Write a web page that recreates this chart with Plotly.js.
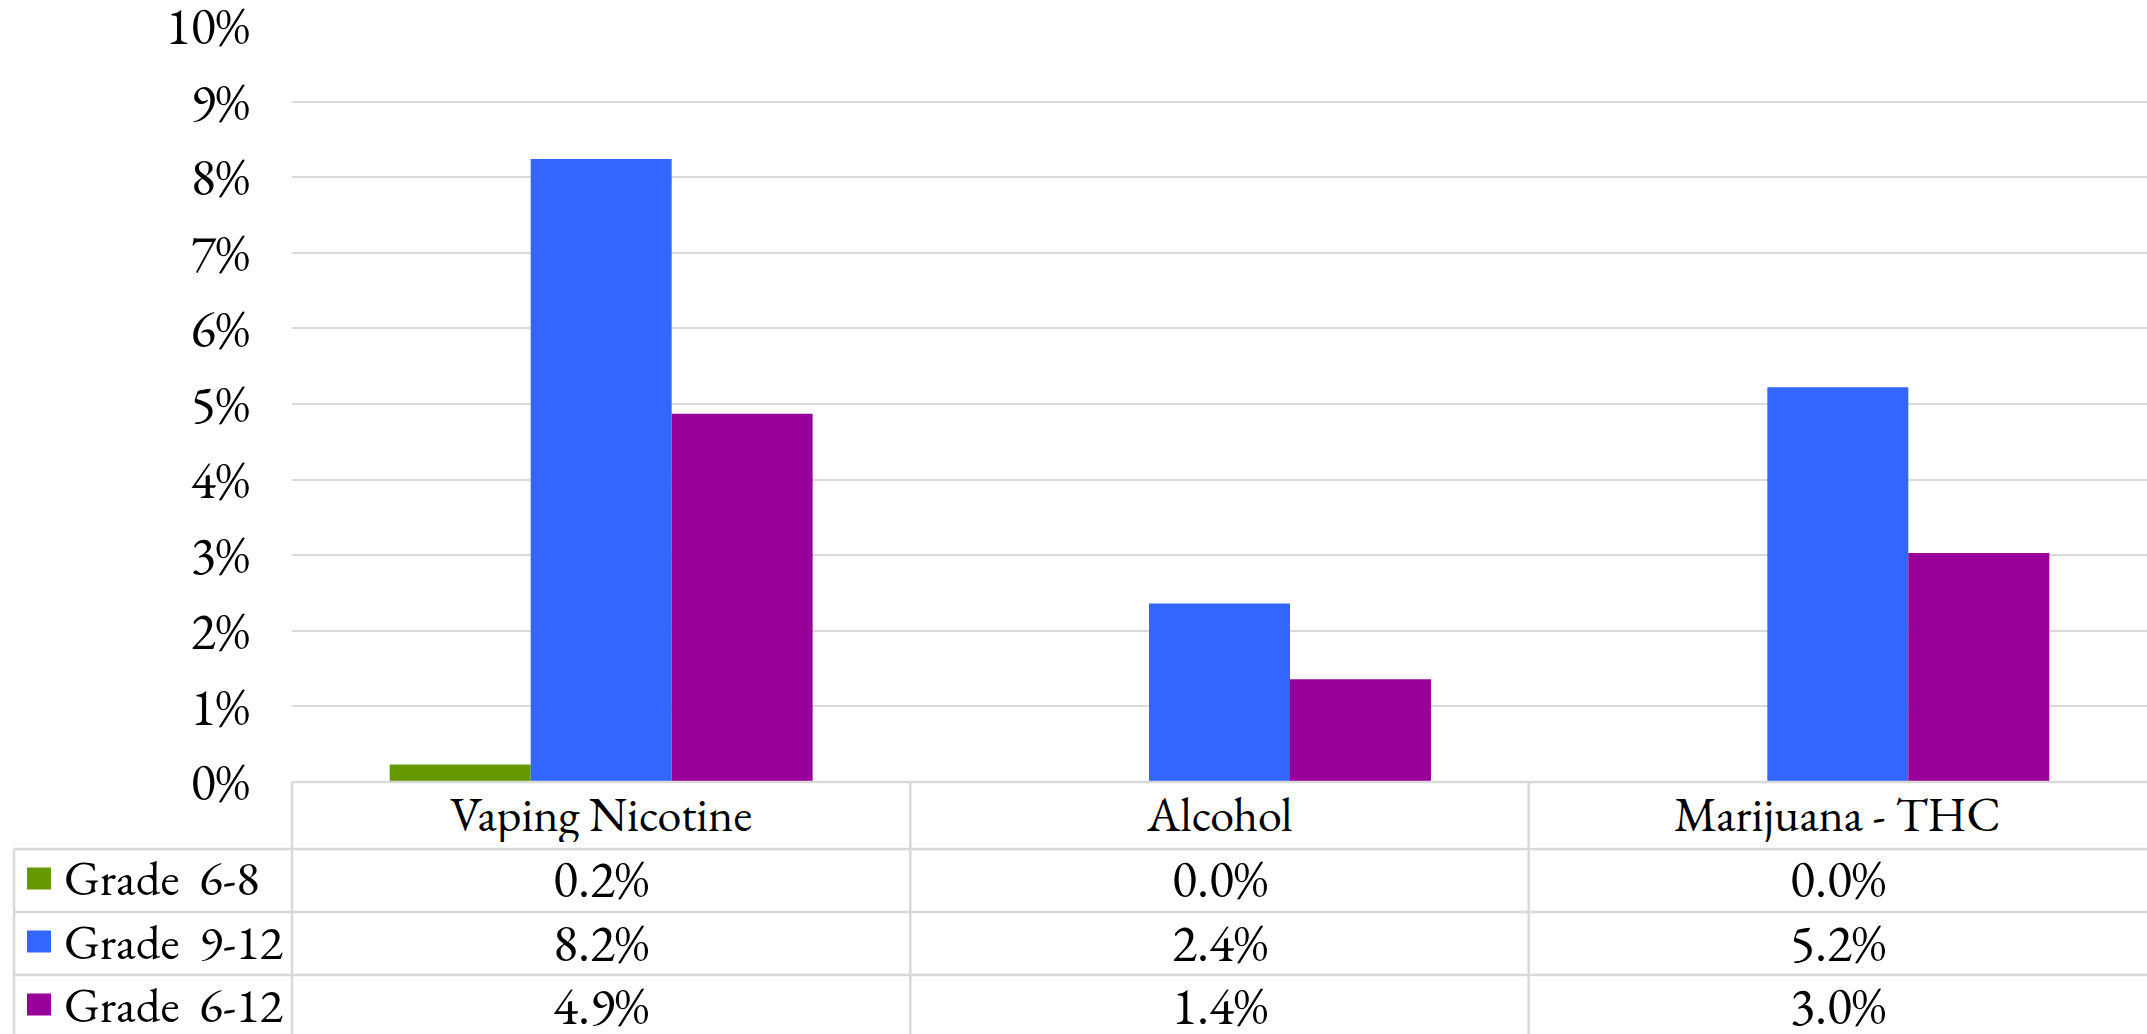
<!DOCTYPE html>
<html>
<head>
<meta charset="utf-8">
<script src="https://cdn.plot.ly/plotly-3.0.1.min.js"></script>
<style>html,body{margin:0;padding:0;background:#fff;}#chart{width:2147px;height:1034px;}</style>
</head>
<body>
<div id="chart"></div>
<script>
// ---- data ----
const categories = ['Vaping Nicotine', 'Alcohol', 'Marijuana - THC'];
const seriesNames = ['Grade  6-8', 'Grade  9-12', 'Grade  6-12'];
const grade6to8 = [0.23, 0.0, 0.0];
const grade9to12 = [8.24, 2.36, 5.22];
const grade6to12 = [4.87, 1.36, 3.03];
const yTickVals = [0, 1, 2, 3, 4, 5, 6, 7, 8, 9, 10];
const yTickText = ['0%', '1%', '2%', '3%', '4%', '5%', '6%', '7%', '8%', '9%', '10%'];

// ---- styling ----
const colors = ['#669900', '#3366FF', '#990099'];
const FONT = 'Garamond, "EB Garamond", "Liberation Serif", "DejaVu Serif", serif';
const FS_CAT = 48, FS_TICK = 52, FS_VAL = 52, FS_LEG = 49;
const GRID = '#D9D9D9';

const W = 2147, H = 1034;
const L = 292, R = 2147, T = 26, B = 782;
const px = p => (p - L) / (R - L);
const py = p => (B - p) / (B - T);

const seriesData = [grade6to8, grade9to12, grade6to12];
const xIdx = categories.map((c, i) => i);

const traces = seriesData.map((vals, s) => ({
  type: 'bar',
  name: seriesNames[s],
  x: xIdx,
  y: vals,
  marker: {color: colors[s], line: {width: 0}},
  hoverinfo: 'skip'
}));

// table geometry (pixels)
const catRowTop = 782, catRowBot = 849;
const rowEdges = [849, 912, 975, 1038];
const tableLeft = 14;
const keyX0 = 27, keyX1 = 51, labelX = 62;

const shapes = [];
const line = {color: GRID, width: 2.5};
shapes.push({type: 'line', xref: 'paper', yref: 'paper', x0: px(L), x1: px(R), y0: py(catRowTop), y1: py(catRowTop), line});
rowEdges.slice(0, 3).forEach(r => {
  shapes.push({type: 'line', xref: 'paper', yref: 'paper', x0: px(tableLeft), x1: px(R), y0: py(r), y1: py(r), line});
});
shapes.push({type: 'line', xref: 'paper', yref: 'paper', x0: px(L), x1: px(L), y0: py(catRowTop), y1: py(H + 5), line});
shapes.push({type: 'line', xref: 'paper', yref: 'paper', x0: px(tableLeft), x1: px(tableLeft), y0: py(catRowBot), y1: py(H + 5), line});
for (let i = 0; i < categories.length - 1; i++) {
  shapes.push({type: 'line', xref: 'x', yref: 'paper', x0: i + 0.5, x1: i + 0.5, y0: py(catRowTop), y1: py(H + 5), line});
}

const annotations = [];
categories.forEach((c, i) => {
  annotations.push({xref: 'x', yref: 'paper', x: i, y: py((catRowTop + catRowBot) / 2 - 1),
    text: c, showarrow: false, xanchor: 'center', yanchor: 'middle', height: 56,
    font: {family: FONT, size: FS_CAT, color: '#000'}});
});
seriesData.forEach((vals, s) => {
  const top = rowEdges[s], bot = rowEdges[s + 1];
  const mid = (top + bot) / 2 - 2;
  shapes.push({type: 'rect', xref: 'paper', yref: 'paper', x0: px(keyX0), x1: px(keyX1),
    y0: py(mid - 11), y1: py(mid + 11), fillcolor: colors[s], line: {width: 0}});
  annotations.push({xref: 'paper', yref: 'paper', x: px(labelX), y: py(mid),
    text: seriesNames[s].replace(/  /g, '\u00a0\u00a0'), showarrow: false, xanchor: 'left', yanchor: 'middle',
    height: 56, font: {family: FONT, size: FS_LEG, color: '#000'}});
  vals.forEach((v, i) => {
    annotations.push({xref: 'x', yref: 'paper', x: i, y: py(mid),
      text: v.toFixed(1) + '%', showarrow: false, xanchor: 'center', yanchor: 'middle',
      height: 56, font: {family: FONT, size: FS_VAL, color: '#000'}});
  });
});

const layout = {
  width: W, height: H,
  margin: {l: L, r: W - R, t: T, b: H - B, pad: 0},
  paper_bgcolor: '#fff', plot_bgcolor: '#fff',
  barmode: 'group', bargap: 0.316, bargroupgap: 0,
  showlegend: false,
  font: {family: FONT, size: FS_TICK, color: '#000'},
  xaxis: {range: [-0.5, categories.length - 0.5], showticklabels: false, showgrid: false,
    zeroline: false, showline: false, ticks: '', fixedrange: true},
  yaxis: {range: [0, 10], tickvals: yTickVals, ticktext: yTickText, showgrid: true,
    gridcolor: GRID, gridwidth: 2, zeroline: false, showline: false,
    ticks: 'outside', ticklen: 31, tickcolor: 'rgba(0,0,0,0)', ticklabeloverflow: 'allow',
    tickfont: {family: FONT, size: FS_TICK, color: '#000'}, fixedrange: true},
  shapes, annotations
};

Plotly.newPlot('chart', traces, layout, {displayModeBar: false, staticPlot: true});
</script>
</body>
</html>
